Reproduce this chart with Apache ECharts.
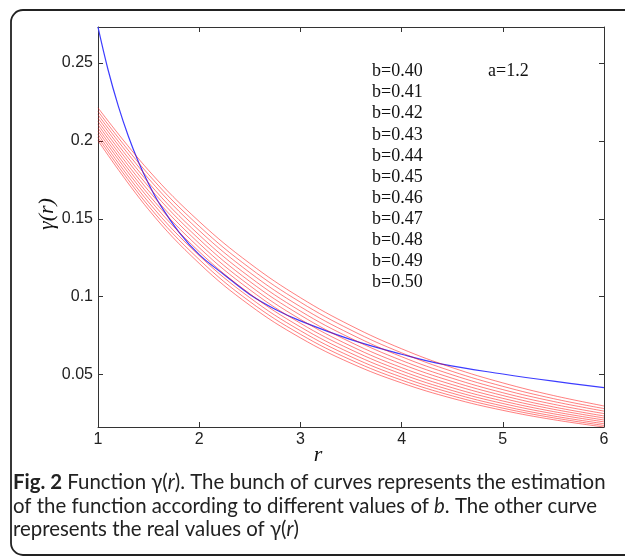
<!DOCTYPE html>
<html>
<head>
<meta charset="utf-8">
<script src="https://cdn.jsdelivr.net/npm/echarts@6/dist/echarts.min.js"></script>
<style>
  html, body { margin: 0; padding: 0; background: #fff; }
  #chart { width: 625px; height: 559px; }
</style>
</head>
<body>
<div id="chart"></div>
<script>
// estimated curves, one per value of b
const rStep = [1, 1.5, 2, 2.5, 3, 3.5, 4, 4.5, 5, 5.5, 6];
const b40 = [0.2212, 0.1811, 0.1483, 0.1214, 0.0994, 0.0814, 0.0666, 0.0545, 0.0447, 0.0366, 0.0299];
const b41 = [0.2190, 0.1784, 0.1453, 0.1184, 0.0965, 0.0786, 0.0640, 0.0521, 0.0425, 0.0346, 0.0282];
const b42 = [0.2168, 0.1758, 0.1425, 0.1155, 0.0936, 0.0759, 0.0615, 0.0499, 0.0404, 0.0328, 0.0266];
const b43 = [0.2147, 0.1731, 0.1396, 0.1126, 0.0908, 0.0733, 0.0591, 0.0477, 0.0384, 0.0310, 0.0250];
const b44 = [0.2125, 0.1706, 0.1369, 0.1098, 0.0882, 0.0707, 0.0568, 0.0456, 0.0366, 0.0293, 0.0235];
const b45 = [0.2104, 0.1680, 0.1342, 0.1071, 0.0855, 0.0683, 0.0545, 0.0436, 0.0348, 0.0278, 0.0222];
const b46 = [0.2083, 0.1655, 0.1315, 0.1045, 0.0830, 0.0660, 0.0524, 0.0416, 0.0331, 0.0263, 0.0209];
const b47 = [0.2063, 0.1631, 0.1289, 0.1019, 0.0806, 0.0637, 0.0504, 0.0398, 0.0315, 0.0249, 0.0197];
const b48 = [0.2042, 0.1606, 0.1264, 0.0994, 0.0782, 0.0615, 0.0484, 0.0381, 0.0299, 0.0235, 0.0185];
const b49 = [0.2022, 0.1582, 0.1239, 0.0969, 0.0759, 0.0594, 0.0465, 0.0364, 0.0285, 0.0223, 0.0174];
const b50 = [0.2002, 0.1559, 0.1214, 0.0945, 0.0736, 0.0573, 0.0447, 0.0348, 0.0271, 0.0211, 0.0164];
const bunch = [b40, b41, b42, b43, b44, b45, b46, b47, b48, b49, b50];
const bLabels = ['b=0.40', 'b=0.41', 'b=0.42', 'b=0.43', 'b=0.44', 'b=0.45',
  'b=0.46', 'b=0.47', 'b=0.48', 'b=0.49', 'b=0.50'];

// real gamma(r)
const realR = [1, 1.1, 1.2, 1.3, 1.4, 1.5, 1.6, 1.8, 2, 2.25, 2.5, 2.75, 3, 3.5, 4, 4.4, 5, 5.5, 6];
const realGamma = [0.273, 0.2455, 0.2225, 0.203, 0.1865, 0.1725, 0.1605, 0.1415, 0.127, 0.114,
  0.1015, 0.092, 0.0845, 0.0725, 0.0631, 0.0567, 0.0504, 0.0458, 0.0417];

const yTicks = [0.05, 0.1, 0.15, 0.2, 0.25];
const yMin = 0.0164;
const yMax = 0.2731;

const axisColor = '#333';
const tickFont = { color: '#222', fontSize: 16, fontFamily: 'Liberation Sans, Arial' };
const captionFont = 'Lato, "Noto Sans", sans-serif';

const chart = echarts.init(document.getElementById('chart'));

const series = [{
  name: 'real',
  type: 'line',
  data: realR.map((r, i) => [r, realGamma[i]]),
  smooth: 0.4,
  showSymbol: false,
  lineStyle: { color: '#3c3cff', width: 1.2 },
  z: 2
}].concat(bunch.map((vals, k) => ({
  name: bLabels[k],
  type: 'line',
  data: rStep.map((r, i) => [r, vals[i]]),
  smooth: 0.4,
  showSymbol: false,
  lineStyle: { color: 'rgba(255,0,0,0.5)', width: 1 },
  z: 3
})));

chart.setOption({
  animation: false,
  backgroundColor: '#fff',
  grid: { left: 98, top: 27, width: 506, height: 400 },
  xAxis: [{
    type: 'value', position: 'bottom', min: 1, max: 6, interval: 1,
    axisLine: { lineStyle: { color: axisColor, width: 1 } },
    axisTick: { inside: true, length: 5, lineStyle: { color: axisColor } },
    axisLabel: Object.assign({ margin: 5 }, tickFont),
    splitLine: { show: false }
  }, {
    type: 'value', position: 'top', min: 1, max: 6, interval: 1,
    axisLine: { show: true, lineStyle: { color: axisColor, width: 1 } },
    axisTick: { inside: true, length: 5, lineStyle: { color: axisColor } },
    axisLabel: { show: false },
    splitLine: { show: false }
  }],
  yAxis: [{
    type: 'value', position: 'left', min: yMin, max: yMax,
    axisLine: { show: true, lineStyle: { color: axisColor, width: 1 } },
    axisTick: { inside: true, length: 5, customValues: yTicks, lineStyle: { color: axisColor } },
    axisLabel: Object.assign({ margin: 5, customValues: yTicks }, tickFont),
    splitLine: { show: false }
  }, {
    type: 'value', position: 'right', min: yMin, max: yMax,
    axisLine: { show: true, lineStyle: { color: axisColor, width: 1 } },
    axisTick: { inside: true, length: 5, customValues: yTicks, lineStyle: { color: axisColor } },
    axisLabel: { show: false },
    splitLine: { show: false }
  }],
  graphic: [{
    type: 'rect',
    shape: { x: 11, y: 10, width: 640, height: 545, r: 12 },
    style: { fill: 'none', stroke: '#222', lineWidth: 1.8 },
    silent: true
  }, {
    type: 'text', left: 372, top: 61,
    style: {
      text: bLabels.join('\n'),
      font: '18px "Liberation Serif", "Times New Roman", serif',
      lineHeight: 21.1, fill: '#111'
    }
  }, {
    type: 'text', left: 488, top: 61,
    style: {
      text: 'a=1.2',
      font: '18px "Liberation Serif", "Times New Roman", serif',
      lineHeight: 21.1, fill: '#111'
    }
  }, {
    type: 'text', x: 318, y: 455,
    style: {
      text: 'r', align: 'center', verticalAlign: 'middle',
      font: 'italic 22px "Liberation Serif", serif', fill: '#111'
    }
  }, {
    type: 'text', x: 47, y: 214, rotation: Math.PI / 2,
    style: {
      text: 'γ(r)', align: 'center', verticalAlign: 'middle',
      font: 'italic 22px "Liberation Serif", serif', fill: '#111'
    }
  }, {
    type: 'text', left: 13, top: 471,
    style: {
      text: '{b|Fig. 2} Function γ({i|r}). The bunch of curves represents the estimation\n' +
        'of the function according to different values of {i|b}. The other curve\n' +
        'represents the real values of γ({i|r})',
      font: '20.4px ' + captionFont,
      lineHeight: 23.5, fill: '#222',
      rich: {
        b: { fontWeight: 'bold', fontSize: 20.4, fontFamily: captionFont, fill: '#222' },
        i: { fontStyle: 'italic', fontSize: 20.4, fontFamily: captionFont, fill: '#222' }
      }
    }
  }],
  series: series
});
</script>
</body>
</html>
